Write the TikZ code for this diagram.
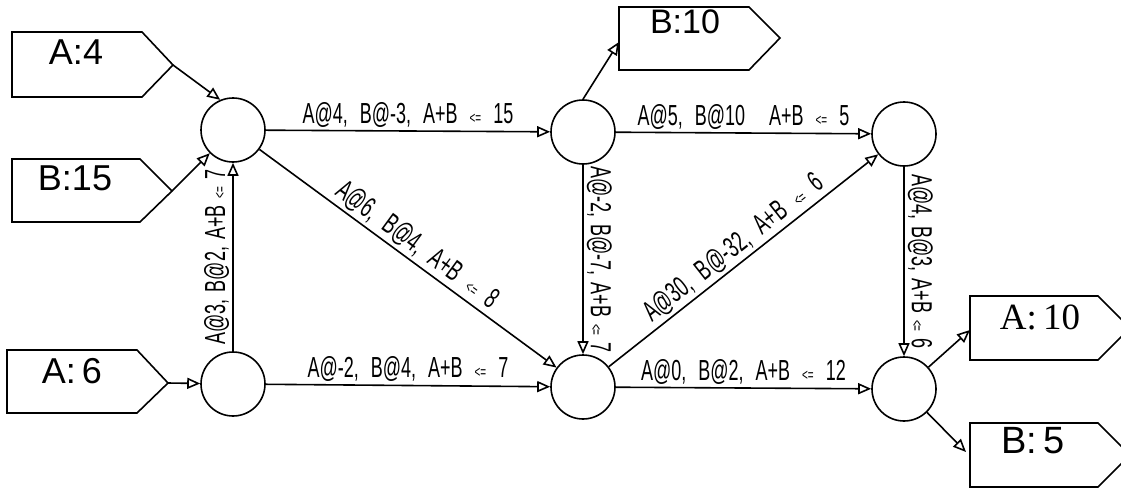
\documentclass[tikz,border=0pt]{standalone}
\usepackage{fontspec}
\usetikzlibrary{arrows.meta}
\newfontfamily\tagfont{Liberation Sans}
\newfontfamily\tagserif{Liberation Serif}
\newfontfamily\edgefont[FakeStretch=0.62]{Liberation Sans}
\newcommand\smle{{\fontsize{16}{16}\selectfont <=}}
\newcommand\gp{\hspace{12pt}}
\newcommand\vg{\hspace{7pt}}
\tikzset{
  state/.style={circle, draw, minimum size=64pt, inner sep=0pt},
  tagshape/.style={draw, line join=miter},
  tagtext/.style={font=\tagfont\fontsize{36}{36}\selectfont, inner sep=0pt},
  flow/.style={-{Triangle[open,length=13pt,width=11pt]}},
  elabel/.style={font=\edgefont\fontsize{29}{29}\selectfont, inner sep=3pt},
}
\begin{document}
\begin{tikzpicture}[x=1pt,y=-1pt,line width=1.6pt]
\useasboundingbox (0,0) rectangle (1121,487);
\clip (0,0) rectangle (1121,487);

% tags
\draw[tagshape] (12,32) -- (142,32) -- (173,65) coordinate (a4tip) -- (142,97) -- (12,97) -- cycle;
\node[tagtext] (ta4) at (76,52) {A:4};
\draw[tagshape] (12,159) -- (140,159) -- (172,191) coordinate (b15tip) -- (140,222) -- (12,222) -- cycle;
\node[tagtext] (tb15) at (75,178) {B:15};
\draw[tagshape] (7,350) -- (137,350) -- (168,383) coordinate (a6tip) -- (137,413) -- (7,413) -- cycle;
\node[tagtext] (ta6) at (72,371) {A:\,6};
\draw[tagshape] (619,7) -- (749,7) -- (780,38) -- (749,70) -- (619,70) -- cycle;
\coordinate (b10in) at (619,42);
\node[tagtext, font=\tagfont\fontsize{34}{34}\selectfont] (tb10) at (685,22) {B:10};
\draw[tagshape] (970,296) -- (1098,296) -- (1130,328) -- (1098,360) -- (970,360) -- cycle;
\coordinate (a10in) at (970,330);
\node[tagtext, font=\tagserif\fontsize{37}{37}\selectfont] (ta10) at (1040,317) {A:\,10};
\draw[tagshape] (970,423) -- (1098,423) -- (1130,455) -- (1098,487) -- (970,487) -- cycle;
\coordinate (b5in) at (966,452);
\node[tagtext, font=\tagfont\fontsize{38}{38}\selectfont] (tb5) at (1033,441) {B:\,5};

% states
\node[state] (n1) at (233,130) {};
\node[state] (n2) at (233,384) {};
\node[state] (n3) at (583,132) {};
\node[state] (n4) at (583,387) {};
\node[state] (n5) at (904,134) {};
\node[state] (n6) at (904,389) {};

% inputs / outputs
\draw[flow] (a4tip) -- (n1.113);
\draw[flow] (b15tip) -- (n1);
\draw[flow] (a6tip) -- (n2);
\draw[flow] (n3.north) -- (b10in);
\draw[flow] (n6) -- (a10in);
\draw[flow] (n6) -- (b5in);

% arcs
\draw[flow] (n1) -- node[elabel, midway, above] (l13) {A@4,\gp B@-3,\gp A+B\gp\smle\gp 15} (n3);
\draw[flow] (n3) -- node[elabel, midway, above] (l35) {A@5,\gp B@10\gp\gp A+B\gp\smle\gp 5} (n5);
\draw[flow] (n2) -- node[elabel, midway, above] (l24) {A@-2,\gp B@4,\gp A+B\gp\smle\gp 7} (n4);
\draw[flow] (n4) -- node[elabel, midway, above] (l46) {A@0,\gp B@2,\gp A+B\gp\smle\gp 12} (n6);
\draw[flow] (n1) -- node[elabel, midway, above, sloped] (l14) {A@6,\gp B@4,\gp A+B\gp\smle\gp 8} (n4);
\draw[flow] (n4) -- node[elabel, midway, above, sloped] (l45) {A@30,\gp B@-32,\gp A+B\gp\smle\gp 6} (n5);
\draw[flow] (n2) -- node[elabel, midway, rotate=90, anchor=south] (l21) {A@3,\vg B@2,\vg A+B\vg\smle\vg 7} (n1);
\draw[flow] (n3) -- node[elabel, midway, rotate=-90, anchor=south] (l34) {A@-2,\vg B@-7,\vg A+B\vg\smle\vg 7} (n4);
\draw[flow] (n5) -- node[elabel, midway, rotate=-90, anchor=south] (l56) {A@4,\vg B@3,\vg A+B\vg\smle\vg 6} (n6);
\end{tikzpicture}
\end{document}
